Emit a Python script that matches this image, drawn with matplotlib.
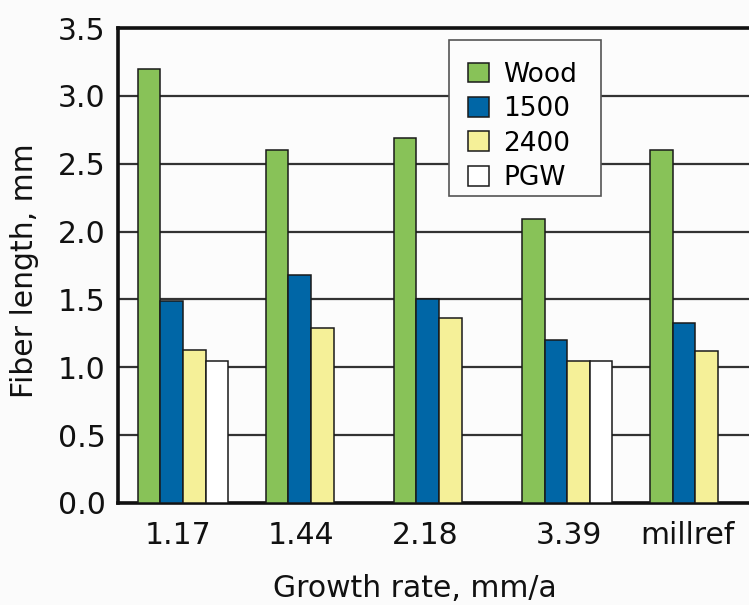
import matplotlib.pyplot as plt
import matplotlib.patches as mpatches
import numpy as np

groups = ['1.17', '1.44', '2.18', '3.39', 'millref']
series = ['Wood', '1500', '2400', 'PGW']
wood = [3.20, 2.60, 2.69, 2.09, 2.60]
s1500 = [1.49, 1.68, 1.50, 1.20, 1.33]
s2400 = [1.13, 1.29, 1.36, 1.05, 1.12]
pgw = [1.05, np.nan, np.nan, 1.05, np.nan]
colors = ['#88c258', '#0066a6', '#f5f098', '#ffffff']
label_shift = [-0.04, -0.08, -0.11, 0.01, -0.06]

plt.rcParams['font.family'] = 'DejaVu Sans'

fig = plt.figure(figsize=(7.49, 6.05), dpi=100)
fig.patch.set_facecolor('#fbfbfb')
ax = fig.add_axes([0.1575, 0.1686, 0.8425, 0.785])
ax.set_facecolor('#fcfcfc')

x = np.arange(len(groups))
w = 0.177
for k, (vals, name) in enumerate(zip([wood, s1500, s2400, pgw], series)):
    ax.bar(x + (k - 1.5) * w, vals, w, color=colors[k], edgecolor='#1a1a1a',
           linewidth=1.1, label=name, zorder=3)

ax.set_ylim(0, 3.5)
ax.set_yticks(np.arange(0, 3.51, 0.5))
ax.set_yticklabels(['%.1f' % v for v in np.arange(0, 3.51, 0.5)])
ax.set_xlim(-0.508, 4.42)
ax.set_xticks(x + np.array(label_shift))
ax.set_xticklabels(groups)
ax.tick_params(axis='both', length=0, labelsize=21.5, colors='#111111')
ax.tick_params(axis='y', pad=9)
ax.tick_params(axis='x', pad=13)
ax.yaxis.grid(True, color='#333333', linewidth=1.6, zorder=0)
ax.set_axisbelow(True)
for s in ['left', 'top', 'bottom']:
    ax.spines[s].set_linewidth(2.6)
    ax.spines[s].set_color('#111111')
ax.spines['right'].set_visible(False)

ax.set_ylabel('Fiber length, mm', fontsize=21.5, color='#111111')
ax.set_xlabel('Growth rate, mm/a', fontsize=21.5, color='#111111')
ax.yaxis.set_label_coords(-0.125, 0.49)
ax.xaxis.set_label_coords(0.47, -0.15)

# legend box drawn separately (reference has more room above than below)
box = mpatches.Rectangle((0.5995, 0.676), 0.203, 0.258, transform=fig.transFigure,
                         facecolor='#fcfcfc', edgecolor='#555555', linewidth=1.2,
                         zorder=4, clip_on=False)
ax.add_patch(box)
leg = ax.legend(loc='upper left', bbox_to_anchor=(0.6248, 0.898),
                bbox_transform=fig.transFigure, fontsize=19, frameon=False,
                handlelength=0.78, handleheight=0.78, handletextpad=0.55,
                labelspacing=0.32, borderpad=0, borderaxespad=0)
leg.set_zorder(5)

fig.savefig('out.png', dpi=100, facecolor=fig.get_facecolor())
